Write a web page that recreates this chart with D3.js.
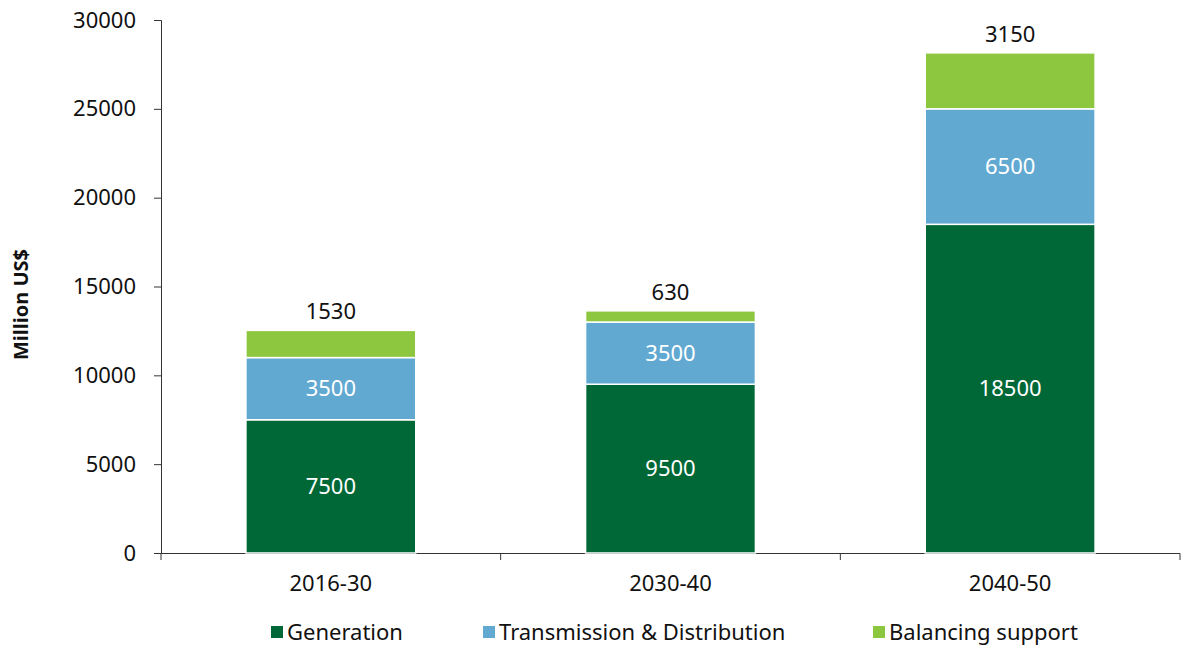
<!DOCTYPE html>
<html>
<head>
<meta charset="utf-8"/>
<style>
  body { margin: 0; background: #fff; }
  text { font-family: "Noto Sans", sans-serif; }
</style>
</head>
<body>
<svg id="chart"></svg>
<script src="https://cdn.jsdelivr.net/npm/d3@7"></script>
<script>
// data
var categories = ['2016-30', '2030-40', '2040-50'];
var seriesNames = ['Generation', 'Transmission & Distribution', 'Balancing support'];
var generation = [7500, 9500, 18500];
var transmission = [3500, 3500, 6500];
var balancing = [1530, 630, 3150];
var yTicks = [0, 5000, 10000, 15000, 20000, 25000, 30000];

var colors = ['#006837', '#62a9d2', '#8dc63f'];

var width = 1182, height = 648;
var svg = d3.select('#chart').attr('width', width).attr('height', height);

// plot area edges (note: "top" is a reserved window global, so use other names)
var plotLeft = 161, plotRight = 1180, plotTop = 20, plotBottom = 553;

var rows = categories.map(function(c, i) {
  return { cat: c, gen: generation[i], td: transmission[i], bal: balancing[i] };
});
var stack = d3.stack().keys(['gen', 'td', 'bal'])(rows);

var x = d3.scaleBand().domain(categories).range([plotLeft, plotRight])
  .paddingInner(0.5).paddingOuter(0.25);
var y = d3.scaleLinear().domain([0, 30000]).range([plotBottom, plotTop]);

// y axis
var yAxis = svg.append('g')
  .attr('transform', 'translate(' + plotLeft + ',0)')
  .call(d3.axisLeft(y).tickValues(yTicks).tickFormat(d3.format('d')).tickSize(7).tickPadding(18));
yAxis.selectAll('text').attr('font-size', '22px').attr('fill', '#111')
  .style('font-family', '"Noto Sans", sans-serif');
yAxis.selectAll('line, path').attr('stroke', '#333');

// x axis: labels at band centres, ticks at band edges
var xAxis = svg.append('g')
  .attr('transform', 'translate(0,' + plotBottom + ')')
  .call(d3.axisBottom(x).tickSize(0).tickPadding(22).tickSizeOuter(0));
xAxis.select('.domain').attr('stroke', '#333').attr('d', 'M' + (plotLeft - 7) + ',0.5H' + plotRight + 'V7');
xAxis.selectAll('text').attr('font-size', '22px').attr('fill', '#111')
  .style('font-family', '"Noto Sans", sans-serif');
var step = x.step();
d3.range(categories.length).forEach(function(i) {
  var bx = plotLeft + step * i;
  xAxis.append('line').attr('x1', bx).attr('x2', bx).attr('y1', 0).attr('y2', 7).attr('stroke', '#333');
});

// bars
var layers = svg.selectAll('.layer').data(stack).enter().append('g')
  .attr('class', 'layer')
  .attr('fill', function(d, i) { return colors[i]; });

layers.selectAll('rect').data(function(d) { return d; }).enter().append('rect')
  .attr('x', function(d) { return x(d.data.cat); })
  .attr('width', x.bandwidth())
  .attr('y', function(d) { return y(d[1]); })
  .attr('height', function(d) { return y(d[0]) - y(d[1]); })
  .attr('stroke', '#fff')
  .attr('stroke-width', 1.5);

// value labels
stack.forEach(function(layer, li) {
  layer.forEach(function(d) {
    var cx = x(d.data.cat) + x.bandwidth() / 2;
    var val = d[1] - d[0];
    if (li < 2) {
      svg.append('text')
        .attr('x', cx).attr('y', (y(d[0]) + y(d[1])) / 2)
        .attr('dy', '0.35em')
        .attr('text-anchor', 'middle')
        .attr('font-size', '22px')
        .attr('fill', '#fff')
        .text(val);
    } else {
      svg.append('text')
        .attr('x', cx).attr('y', y(d[1]) - 11)
        .attr('text-anchor', 'middle')
        .attr('font-size', '22px')
        .attr('fill', '#111')
        .text(val);
    }
  });
});

// y axis title
svg.append('text')
  .attr('transform', 'translate(28,' + ((plotTop + plotBottom) / 2 + 18) + ') rotate(-90)')
  .attr('text-anchor', 'middle')
  .attr('font-size', '20px')
  .attr('font-weight', 'bold')
  .attr('fill', '#111')
  .text('Million US$');

// legend
var legendX = [271, 483, 873];
seriesNames.forEach(function(name, i) {
  var g = svg.append('g').attr('transform', 'translate(' + legendX[i] + ',626)');
  g.append('rect').attr('width', 12).attr('height', 12).attr('fill', colors[i]);
  g.append('text').attr('x', 16).attr('y', 14).attr('font-size', '22px').attr('fill', '#111').text(name);
});
</script>
</body>
</html>
